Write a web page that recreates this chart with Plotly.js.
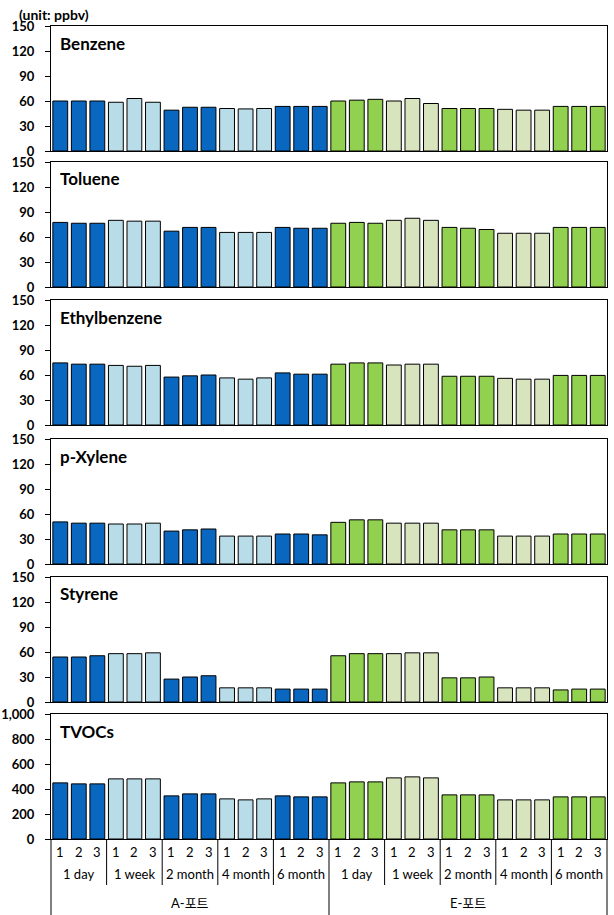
<!DOCTYPE html>
<html>
<head>
<meta charset="utf-8">
<script src="https://cdn.plot.ly/plotly-3.0.1.min.js"></script>
<style>html,body{margin:0;padding:0;background:#fff;}#chart{width:614px;height:915px;}</style>
</head>
<body>
<div id="chart"></div>
<script>
// ---- data ----
const ports = ['A-포트', 'E-포트'];
const periods = ['1 day', '1 week', '2 month', '4 month', '6 month'];
const reps = ['1', '2', '3'];
const compounds = ['Benzene', 'Toluene', 'Ethylbenzene', 'p-Xylene', 'Styrene', 'TVOCs'];
const unitLabel = '(unit: ppbv)';

const benzene = [60,60,60,58.5,63,58.5,49,52.5,52.5,51,50.5,51,53.5,53.5,53.5, 60,61,62,60,63,57,51,51,51,50,49,49,53.5,53.5,53.5];
const toluene = [77.5,76.5,76.5,80,79,79,67,71.5,71.5,65.5,65.5,65.5,71.5,70.5,70.5, 76.5,77.5,76.5,80,82.5,80,71.5,70.5,69,64.5,64.5,64.5,71.5,71.5,71.5];
const ethylbenzene = [74.5,73,73,71.5,70.5,71.5,57.5,59,60,56.5,55,56.5,62.5,61,61, 73,74.5,74.5,72,73,73,58.5,58.5,58.5,56,55,55,59.5,59.5,59.5];
const pXylene = [50.5,49,49,48,48,49,39.5,41,42,33.5,33.5,33.5,36,36,35, 50,53,53,49,49,49,41,41,41,33.5,33.5,33.5,36,36,36];
const styrene = [54,54,55.5,58,58,59,27.5,30,31.5,17,17,17,15.5,15.5,15.5, 55.5,58,58,58,59,59,29,29,30,17,17,17,14.5,15.5,15.5];
const tvocs = [449,441,441,481,481,481,345,361,361,321,313,321,345,337,337, 449,457,457,489,497,489,353,353,353,313,313,313,337,337,337];

const yMax = [150, 150, 150, 150, 150, 1000];
const yStep = [30, 30, 30, 30, 30, 200];

// ---- build ----
const series = [benzene, toluene, ethylbenzene, pXylene, styrene, tvocs];
const portColors = [['#0A67BF', '#B9DDE8'], ['#92D050', '#D8E4BE']];
const cats = [], colors = [], catRep = [];
ports.forEach((p, pi) => periods.forEach((pe, gi) => reps.forEach(r => {
  cats.push(p + ' ' + pe + ' ' + r);
  colors.push(portColors[pi][gi % 2]);
  catRep.push(r);
})));

const FONT = 'Lato, "Noto Sans CJK KR", sans-serif';
const plotTop = 26, plotBottom = 839, H = plotBottom - plotTop;
const panelTops = [26, 162, 300, 439, 577, 714];
const panelH = 125;

const data = [], annotations = [], shapes = [];
const layout = {
  width: 614, height: 915,
  margin: {l: 51, r: 7, t: plotTop, b: 915 - plotBottom},
  paper_bgcolor: '#fff', plot_bgcolor: '#fff',
  showlegend: false,
  font: {family: FONT, color: '#000'},
  annotations: annotations, shapes: shapes
};

series.forEach((vals, k) => {
  const n = k + 1;
  const xa = 'x' + (n === 1 ? '' : n), ya = 'y' + (n === 1 ? '' : n);
  data.push({
    type: 'bar', x: cats, y: vals, xaxis: xa, yaxis: ya,
    marker: {color: colors, line: {color: '#000', width: 1}},
    hoverinfo: 'x+y'
  });
  const top = panelTops[k];
  const d1 = (plotBottom - top) / H, d0 = (plotBottom - top - panelH) / H;
  layout['xaxis' + (n === 1 ? '' : n)] = {
    type: 'category', anchor: ya, domain: [0, 1], range: [-0.5, cats.length - 0.5],
    showticklabels: false, ticks: '', showgrid: false, zeroline: false,
    showline: true, mirror: true, linecolor: '#000', linewidth: 1, fixedrange: true
  };
  layout['yaxis' + (n === 1 ? '' : n)] = {
    anchor: xa, domain: [Math.max(0, d0), Math.min(1, d1)],
    range: [0, yMax[k]], dtick: yStep[k], tick0: 0,
    separatethousands: true,
    showgrid: false, zeroline: false, showline: true, mirror: true,
    linecolor: '#000', linewidth: 1, ticks: 'outside', ticklen: 5, tickcolor: '#000',
    ticklabelstandoff: 8,
    tickfont: {family: FONT, size: 13, weight: 'bold', color: '#000'}, fixedrange: true
  };
  annotations.push({
    text: compounds[k], xref: 'paper', yref: 'paper', x: 0, y: d1,
    xanchor: 'left', yanchor: 'middle', xshift: 7, yshift: -17, showarrow: false,
    font: {family: FONT, size: 17, weight: 'bold', color: '#000'}
  });
});

// unit label
annotations.push({
  text: unitLabel, xref: 'paper', yref: 'paper', x: 0, y: 1, xanchor: 'left', yanchor: 'middle',
  xshift: -34, yshift: 12, showarrow: false,
  font: {family: FONT, size: 14, weight: 'bold', color: '#000'}
});

// bottom hierarchical labels
const nCat = cats.length;
cats.forEach((c, i) => {
  annotations.push({
    text: catRep[i], xref: 'x6', yref: 'paper', x: c, y: 0, xanchor: 'center', yanchor: 'middle', yshift: -13,
    showarrow: false, font: {family: FONT, size: 13, color: '#000'}
  });
});
ports.forEach((p, pi) => {
  periods.forEach((pe, gi) => {
    const g = pi * periods.length + gi;
    annotations.push({
      text: pe, xref: 'paper', yref: 'paper', x: (g * reps.length + reps.length / 2) / nCat, y: 0,
      xanchor: 'center', yanchor: 'middle', yshift: -35, showarrow: false,
      font: {family: FONT, size: 13, color: '#000'}
    });
  });
  annotations.push({
    text: p, xref: 'paper', yref: 'paper', x: (pi + 0.5) / ports.length, y: 0,
    xanchor: 'center', yanchor: 'middle', yshift: -64, showarrow: false,
    font: {family: FONT, size: 13, color: '#000'}
  });
});
// separators
const nGroups = ports.length * periods.length;
for (let g = 0; g <= nGroups; g++) {
  const major = (g % periods.length === 0);
  shapes.push({
    type: 'line', xref: 'paper', yref: 'paper',
    x0: g * reps.length / nCat, x1: g * reps.length / nCat,
    y0: 0, y1: major ? -76 / H : -46 / H,
    line: {color: '#000', width: 1}
  });
}

Plotly.newPlot('chart', data, layout, {displayModeBar: false, staticPlot: true});
</script>
</body>
</html>
